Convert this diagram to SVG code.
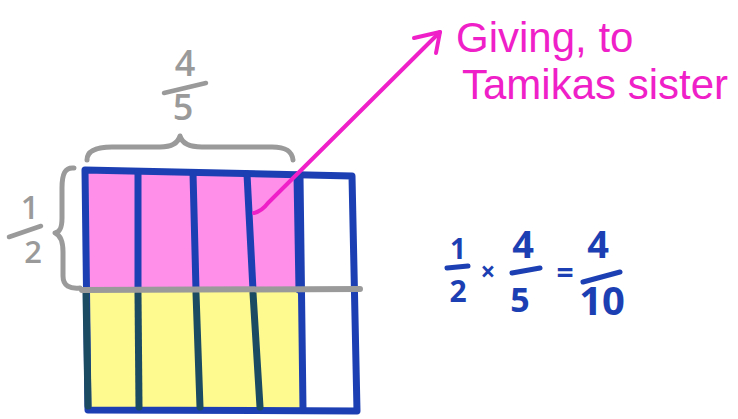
<svg xmlns="http://www.w3.org/2000/svg" width="738" height="419" viewBox="0 0 738 419">
  <style>
    .blue { stroke: #1c3fb3; fill: none; stroke-width: 7; stroke-linecap: round; stroke-linejoin: round; }
    .teal { stroke: #1b4a63; fill: none; stroke-width: 7; stroke-linecap: round; }
    .gray { stroke: #9a9a9a; fill: none; stroke-width: 5; stroke-linecap: round; stroke-linejoin: round; }
    .mag { stroke: #f020c8; fill: none; stroke-width: 4; stroke-linecap: round; stroke-linejoin: round; }
    .gtxt { fill: #9a9a9a; font-family: "Open Sans", "Liberation Sans", sans-serif; font-weight: 600; text-anchor: middle; }
    .btxt { fill: #1c3fb3; font-family: "Open Sans", "Liberation Sans", sans-serif; font-weight: 700; text-anchor: middle; }
    .mtxt { fill: #f020c8; font-family: "Liberation Sans", sans-serif; font-size: 42px; }
    .gbar { stroke: #9a9a9a; stroke-width: 4.5; stroke-linecap: round; }
    .bbar { stroke: #1c3fb3; stroke-width: 5; stroke-linecap: round; }
  </style>
  <rect width="738" height="419" fill="#ffffff"/>

  <g id="grid">
    <polygon points="86,172 300,174 302,290 86,290" fill="#ff8fe9"/>
    <polygon points="86,290 302,290 304,410 88,410" fill="#fffa8f"/>
    <path class="blue" d="M85,170 L352,176 L357,411 L88,410 Z"/>
    <path class="blue" d="M138,172 L138,290"/>
    <path class="blue" d="M193,173 L196,290"/>
    <path class="blue" d="M247,174 L253,290"/>
    <path class="blue" d="M297,175 L299,290"/>
    <path class="teal" d="M86,293 L88,406"/>
    <path class="teal" d="M138,293 L139,407"/>
    <path class="teal" d="M196,293 L200,407"/>
    <path class="teal" d="M253,293 L260,407"/>
    <path class="blue" d="M300,176 L303,409"/>
    <path d="M82,290 L360,289" stroke="#9a9a9a" stroke-width="6" stroke-linecap="round" fill="none"/>
  </g>

  <g id="brace-top">
    <path class="gray" d="M87,160 C87,151 95,147 112,147 L160,147 C172,147 178,143 180,136 C182,143 188,147 202,147 L272,147 C286,147 292,151 293,160"/>
  </g>
  <g id="label-four-fifths">
    <text class="gtxt" x="185" y="76" font-size="36">4</text>
    <line class="gbar" x1="164" y1="93" x2="206" y2="83"/>
    <text class="gtxt" x="183" y="120" font-size="36">5</text>
  </g>

  <g id="brace-left">
    <path class="gray" d="M74,168 C65,167 62,174 62,188 L62,218 C62,228 60,232 55,233 C60,235 63,240 63,252 L63,276 C63,286 70,289 80,288"/>
  </g>
  <g id="label-one-half">
    <text class="gtxt" x="30" y="219" font-size="32">1</text>
    <line class="gbar" x1="9" y1="237" x2="41" y2="226"/>
    <text class="gtxt" x="33" y="263" font-size="31">2</text>
  </g>

  <g id="connectors">
    <path class="mag" d="M254,213 Q262,211 268,203 L440,32"/>
    <path class="mag" d="M414,38 L440,32 L436,53"/>
  </g>

  <g id="annotation">
    <text class="mtxt" x="456" y="52">Giving, to</text>
    <text class="mtxt" x="462" y="99">Tamikas sister</text>
  </g>

  <g id="equation">
    <text class="btxt" x="458" y="259" font-size="28">1</text>
    <line class="bbar" x1="447" y1="268" x2="468" y2="266"/>
    <text class="btxt" x="458" y="302" font-size="30">2</text>
    <text class="btxt" x="488" y="281" font-size="26">×</text>
    <text class="btxt" x="523" y="258" font-size="38">4</text>
    <line class="bbar" x1="512" y1="273" x2="540" y2="268"/>
    <text class="btxt" x="520" y="312" font-size="34">5</text>
    <text class="btxt" x="565" y="283" font-size="30">=</text>
    <text class="btxt" x="598" y="258" font-size="38">4</text>
    <line class="bbar" x1="583" y1="282" x2="620" y2="272"/>
    <text class="btxt" x="602" y="315" font-size="40">10</text>
  </g>
</svg>
